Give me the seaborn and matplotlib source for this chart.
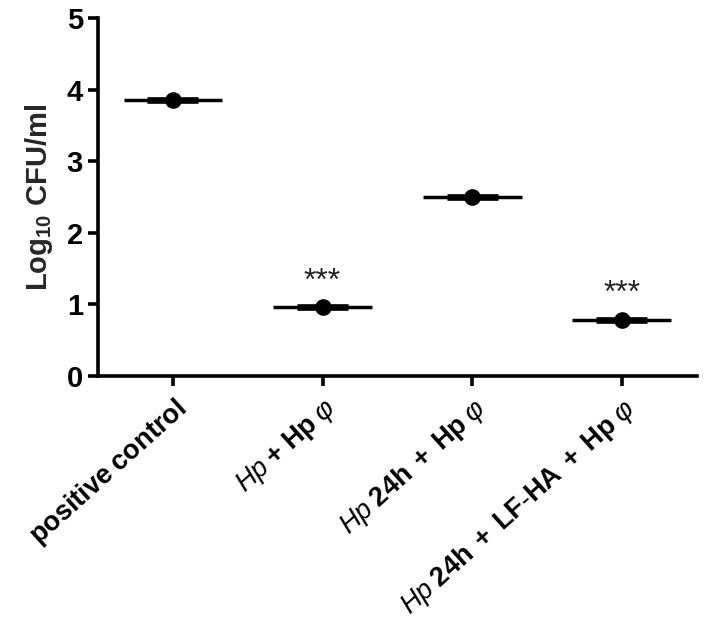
import matplotlib
matplotlib.use("Agg")
import matplotlib.pyplot as plt
import seaborn as sns
import pandas as pd

groups = ["positive control", "Hp + Hp phi", "Hp 24h + Hp phi", "Hp 24h + LF-HA + Hp phi"]
tick_labels = [
    r"$\mathbf{positive\;control}$",
    r"$\mathit{Hp}\;\mathbf{+\;Hp}\;\varphi$",
    r"$\mathit{Hp}\;\mathbf{24h\;+\;Hp}\;\varphi$",
    r"$\mathit{Hp}\;\mathbf{24h\;+\;LF\text{-}HA\;+\;Hp}\;\varphi$",
]
means = [3.86, 0.96, 2.50, 0.78]
signif = ["", "***", "", "***"]

sns.set_theme(style="ticks")
plt.rcParams["font.family"] = ["Liberation Sans", "DejaVu Sans"]
plt.rcParams["mathtext.fontset"] = "custom"
plt.rcParams["mathtext.rm"] = "Liberation Sans"
plt.rcParams["mathtext.it"] = "Liberation Sans:italic"
plt.rcParams["mathtext.bf"] = "Liberation Sans:bold"
plt.rcParams["mathtext.sf"] = "Liberation Sans"

df = pd.DataFrame({"group": groups, "value": means})

fig = plt.figure(figsize=(7.16, 6.23), dpi=100)
ax = fig.add_axes([0.137, 0.3965, 0.836, 0.5745])

sns.stripplot(data=df, x="group", y="value", order=groups, color="black",
              size=12, jitter=False, ax=ax, zorder=5)

for i, m in enumerate(means):
    ax.hlines(m, i - 0.33, i + 0.33, color="black", lw=2.5, zorder=3)
    ax.hlines(m, i - 0.17, i + 0.17, color="black", lw=4.8, zorder=4)
    if signif[i]:
        ax.text(i, m + 0.36, signif[i], ha="center", va="center", fontsize=23, color="#222222")

ax.set_xlim(-0.5, 3.5)
ax.set_ylim(0, 5)
ax.set_yticks([0, 1, 2, 3, 4, 5])
ax.set_yticklabels(["0", "1", "2", "3", "4", "5"], fontsize=21, fontweight="bold")
ax.set_xticks(range(len(groups)))
ax.set_xticklabels(tick_labels, rotation=42, ha="right", rotation_mode="anchor", fontsize=19.5)
ax.set_xlabel("")
ax.set_ylabel(r"$\mathbf{Log_{10}\ CFU/ml}$", fontsize=21, labelpad=8)

for s in ["top", "right"]:
    ax.spines[s].set_visible(False)
for s in ["left", "bottom"]:
    ax.spines[s].set_linewidth(2.6)
    ax.spines[s].set_color("black")
ax.tick_params(axis="both", width=2.6, length=7, color="black", labelcolor="black", pad=4)
ax.tick_params(axis="x", pad=6)

fig.savefig("out.png", dpi=100)
